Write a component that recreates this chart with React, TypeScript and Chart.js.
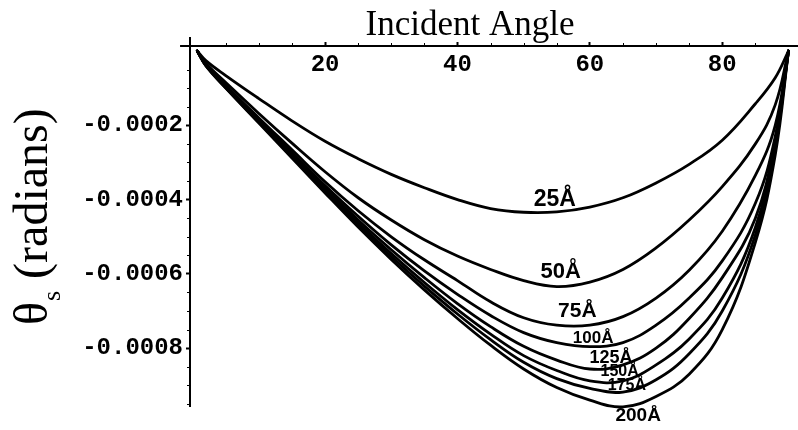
import React, { useEffect, useRef } from 'react';
import { Chart, registerables } from 'chart.js';

Chart.register(...registerables);

// Incident angle (degrees) at which every thickness curve is sampled
const ANGLES = [0.7, 2, 5, 10, 15, 20, 25, 30, 35, 40, 45, 50, 55, 60, 65, 70, 75, 80, 85, 88, 90];

// Shift angle θs (radians) for each film thickness
const THETA_25 = [0, -0.26e-4, -0.66e-4, -1.28e-4, -1.88e-4, -2.43e-4, -2.9e-4, -3.32e-4, -3.68e-4, -4.0e-4, -4.24e-4, -4.34e-4, -4.33e-4, -4.2e-4, -3.95e-4, -3.55e-4, -3.05e-4, -2.4e-4, -1.42e-4, -0.72e-4, 0];
const THETA_50 = [0, -0.33e-4, -0.85e-4, -1.68e-4, -2.48e-4, -3.25e-4, -3.95e-4, -4.55e-4, -5.08e-4, -5.52e-4, -5.88e-4, -6.18e-4, -6.34e-4, -6.22e-4, -5.88e-4, -5.3e-4, -4.55e-4, -3.65e-4, -2.5e-4, -1.45e-4, 0];
const THETA_75 = [0, -0.36e-4, -0.92e-4, -1.8e-4, -2.66e-4, -3.52e-4, -4.3e-4, -5.0e-4, -5.62e-4, -6.18e-4, -6.75e-4, -7.18e-4, -7.38e-4, -7.38e-4, -7.15e-4, -6.65e-4, -5.9e-4, -4.85e-4, -3.35e-4, -2.0e-4, 0];
const THETA_100 = [0, -0.38e-4, -0.95e-4, -1.85e-4, -2.74e-4, -3.62e-4, -4.45e-4, -5.22e-4, -5.92e-4, -6.55e-4, -7.12e-4, -7.58e-4, -7.85e-4, -7.96e-4, -7.85e-4, -7.38e-4, -6.65e-4, -5.65e-4, -4.1e-4, -2.3e-4, 0];
const THETA_125 = [0, -0.38e-4, -0.97e-4, -1.88e-4, -2.78e-4, -3.68e-4, -4.55e-4, -5.35e-4, -6.1e-4, -6.8e-4, -7.42e-4, -7.95e-4, -8.32e-4, -8.56e-4, -8.45e-4, -8.0e-4, -7.2e-4, -6.1e-4, -4.5e-4, -2.4e-4, 0];
const THETA_150 = [0, -0.39e-4, -0.98e-4, -1.9e-4, -2.82e-4, -3.74e-4, -4.62e-4, -5.45e-4, -6.23e-4, -6.96e-4, -7.62e-4, -8.2e-4, -8.6e-4, -8.88e-4, -8.88e-4, -8.45e-4, -7.75e-4, -6.65e-4, -4.75e-4, -2.5e-4, 0];
const THETA_175 = [0, -0.39e-4, -0.99e-4, -1.92e-4, -2.85e-4, -3.78e-4, -4.68e-4, -5.53e-4, -6.33e-4, -7.08e-4, -7.77e-4, -8.38e-4, -8.82e-4, -9.08e-4, -9.18e-4, -8.85e-4, -8.15e-4, -7.0e-4, -4.95e-4, -2.6e-4, 0];
const THETA_200 = [0, -0.4e-4, -1.0e-4, -1.94e-4, -2.88e-4, -3.82e-4, -4.74e-4, -5.61e-4, -6.43e-4, -7.2e-4, -7.92e-4, -8.56e-4, -9.06e-4, -9.4e-4, -9.58e-4, -9.3e-4, -8.7e-4, -7.5e-4, -5.15e-4, -2.8e-4, 0];

const SERIES = [THETA_25, THETA_50, THETA_75, THETA_100, THETA_125, THETA_150, THETA_175, THETA_200];
const THICKNESS_LABELS = ['25Å', '50Å', '75Å', '100Å', '125Å', '150Å', '175Å', '200Å'];

// Where each thickness note sits, in axis units (angle, θs)
const NOTE_ANGLE = [54.7, 55.6, 58.1, 60.5, 63.2, 64.5, 65.6, 67.3];
const NOTE_THETA = [-4.01e-4, -5.95e-4, -7.0e-4, -7.73e-4, -8.26e-4, -8.64e-4, -9.02e-4, -9.82e-4];
const NOTE_FONT_PX = [23, 22, 21, 17, 18, 16, 16, 19];

const X_TICKS = [20, 40, 60, 80];
const X_TICK_LABELS = ['20', '40', '60', '80'];
const Y_TICKS = [-0.0002, -0.0004, -0.0006, -0.0008];
const Y_TICK_LABELS = ['-0.0002', '-0.0004', '-0.0006', '-0.0008'];

const X_TITLE = 'Incident Angle';
const Y_TITLE_MAIN = 'θ';
const Y_TITLE_SUB = 's';
const Y_TITLE_REST = ' (radians)';

const X_MIN = -0.4;
const X_MAX = 91.44;
const Y_MIN = -9.556e-4;
const Y_MAX = 1.35e-5;
// axes run a little past their crossing point
const X_AXIS_START = -1.9;
const Y_AXIS_TOP = 3.8e-5;

const TICK_FONT = { family: '"Liberation Mono", "DejaVu Sans Mono", monospace', size: 24, weight: 'bold' as const };
const SERIF = '"Liberation Serif", "DejaVu Serif", serif';

const axesExtras = {
  id: 'axesExtras',
  afterDraw(chart: any) {
    const { ctx, chartArea, scales } = chart;
    const xs = scales.x;
    const ys = scales.y;
    ctx.save();
    ctx.strokeStyle = '#000';
    ctx.lineWidth = 2;
    // axis overhang beyond the crossing
    ctx.beginPath();
    ctx.moveTo(xs.getPixelForValue(X_AXIS_START), chartArea.top);
    ctx.lineTo(chartArea.left, chartArea.top);
    ctx.moveTo(chartArea.left, ys.getPixelForValue(Y_AXIS_TOP));
    ctx.lineTo(chartArea.left, chartArea.top);
    ctx.stroke();

    // minor ticks
    ctx.lineWidth = 1;
    ctx.beginPath();
    for (let a = 5; a < 90; a += 5) {
      if (a % 20 === 0) continue;
      const px = Math.round(xs.getPixelForValue(a)) + 0.5;
      ctx.moveTo(px, chartArea.top);
      ctx.lineTo(px, chartArea.top - 3);
    }
    for (let k = 1; k <= 19; k++) {
      if (k % 4 === 0) continue;
      const py = Math.round(ys.getPixelForValue(-k * 0.00005)) + 0.5;
      ctx.moveTo(chartArea.left, py);
      ctx.lineTo(chartArea.left - 3, py);
    }
    ctx.stroke();

    // x title
    ctx.fillStyle = '#000';
    ctx.font = `35px ${SERIF}`;
    ctx.textAlign = 'center';
    ctx.textBaseline = 'alphabetic';
    ctx.fillText(X_TITLE, chartArea.left + 280, chartArea.top - 11);

    // y title, reading upward
    ctx.translate(47, 325);
    ctx.rotate(-Math.PI / 2);
    ctx.textAlign = 'left';
    ctx.font = `48px ${SERIF}`;
    ctx.fillText(Y_TITLE_MAIN, 0, 0);
    let w = ctx.measureText(Y_TITLE_MAIN).width;
    ctx.font = `26px ${SERIF}`;
    ctx.fillText(Y_TITLE_SUB, w + 1, 13);
    w += ctx.measureText(Y_TITLE_SUB).width + 1;
    ctx.font = `48px ${SERIF}`;
    ctx.fillText(Y_TITLE_REST, w, 0);
    ctx.restore();
  },
  afterDatasetsDraw(chart: any) {
    const { ctx, scales } = chart;
    ctx.save();
    ctx.fillStyle = '#000';
    ctx.textAlign = 'center';
    ctx.textBaseline = 'middle';
    THICKNESS_LABELS.forEach((label, i) => {
      ctx.font = `bold ${NOTE_FONT_PX[i]}px "Liberation Sans", "DejaVu Sans", sans-serif`;
      ctx.fillText(label, scales.x.getPixelForValue(NOTE_ANGLE[i]), scales.y.getPixelForValue(NOTE_THETA[i]));
    });
    ctx.restore();
  },
};

export default function App() {
  const canvasRef = useRef<HTMLCanvasElement | null>(null);

  useEffect(() => {
    const canvas = canvasRef.current;
    if (!canvas) return;
    const chart = new Chart(canvas, {
      type: 'line',
      data: {
        datasets: SERIES.map((series, i) => ({
          label: THICKNESS_LABELS[i],
          data: ANGLES.map((a, j) => ({ x: a, y: series[j] })),
          borderColor: '#000',
          borderWidth: 2.8,
          pointRadius: 0,
          fill: false,
          tension: 0.4,
          borderCapStyle: 'round' as const,
          borderJoinStyle: 'round' as const,
          clip: false as any,
        })),
      },
      options: {
        responsive: false,
        animation: false,
        events: [],
        devicePixelRatio: 1,
        layout: { padding: { left: 40, top: 10, right: 0, bottom: 24 } },
        plugins: {
          legend: { display: false },
          tooltip: { enabled: false },
        },
        scales: {
          x: {
            type: 'linear',
            position: 'top',
            min: X_MIN,
            max: X_MAX,
            afterBuildTicks: (s: any) => {
              s.ticks = X_TICKS.map((v) => ({ value: v }));
            },
            afterFit: (s: any) => {
              s.height = 36;
            },
            ticks: {
              mirror: true,
              padding: 5,
              color: '#000',
              font: TICK_FONT,
              maxRotation: 0,
              autoSkip: false,
              callback: (v: any) => X_TICK_LABELS[X_TICKS.indexOf(Number(v))] ?? '',
            },
            grid: { drawOnChartArea: false, drawTicks: true, tickLength: 4, tickWidth: 2, tickColor: '#000' },
            border: { display: true, color: '#000', width: 2 },
          },
          y: {
            type: 'linear',
            position: 'left',
            min: Y_MIN,
            max: Y_MAX,
            afterBuildTicks: (s: any) => {
              s.ticks = Y_TICKS.map((v) => ({ value: v }));
            },
            afterFit: (s: any) => {
              s.width = 150;
            },
            ticks: {
              padding: 3,
              color: '#000',
              font: TICK_FONT,
              autoSkip: false,
              callback: (v: any) => {
                const idx = Y_TICKS.findIndex((t) => Math.abs(t - Number(v)) < 1e-9);
                return idx >= 0 ? Y_TICK_LABELS[idx] : '';
              },
            },
            grid: { drawOnChartArea: false, drawTicks: true, tickLength: 4, tickWidth: 2, tickColor: '#000' },
            border: { display: true, color: '#000', width: 2 },
          },
        },
      } as any,
      plugins: [axesExtras],
    });
    return () => chart.destroy();
  }, []);

  return (
    <div style={{ position: 'absolute', left: 0, top: 0, width: 798, height: 430, background: '#fff' }}>
      <canvas ref={canvasRef} width={798} height={430} style={{ display: 'block' }} />
    </div>
  );
}
